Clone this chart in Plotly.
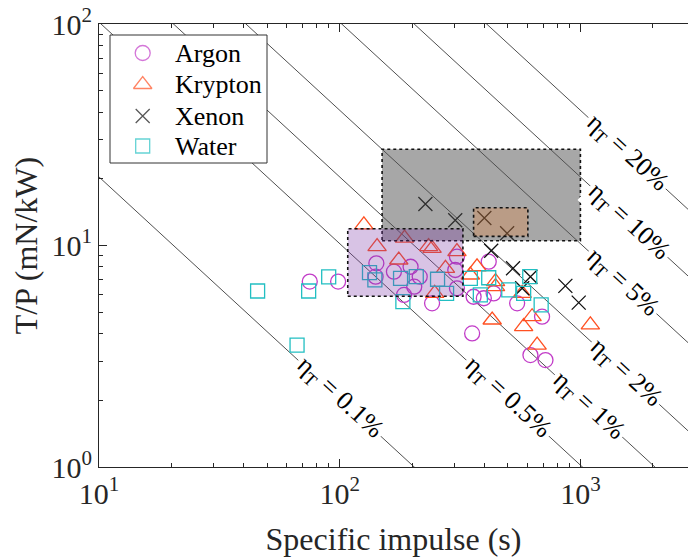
import math
import plotly.graph_objects as go

G0 = 9.80665  # m/s^2

# Specific impulse (s) and thrust-to-power (mN/kW) per propellant
argon_isp = [75.1, 98.5, 142, 141, 168, 197, 215, 204, 185, 242, 307, 302, 307, 416,
             360, 397, 436, 546, 693, 355, 620, 716]
argon_tp = [6.87, 6.87, 8.31, 7.23, 7.62, 8.02, 7.23, 6.52, 5.98, 5.48, 8.90, 7.75, 6.41, 8.45,
            5.87, 5.78, 6.08, 5.48, 4.77, 4.01, 3.20, 3.04]

krypton_isp = [126, 143, 186, 176, 234, 242, 307, 275, 372, 349, 444, 444, 573, 248,
               430, 581, 630, 1100, 661]
krypton_tp = [12.4, 9.88, 10.8, 8.60, 9.88, 9.71, 9.38, 7.89, 8.02, 7.36, 6.87, 6.52, 6.08, 6.08,
              4.61, 4.30, 4.77, 4.38, 3.55]

xenon_isp = [227, 302, 399, 496, 426, 525, 620, 573, 866, 984]
xenon_tp = [15.4, 13.0, 13.3, 11.35, 9.47, 7.89, 7.23, 6.41, 6.57, 5.52]

water_isp = [45.6, 74.3, 90.0, 66.5, 133, 140, 179, 208, 255, 278, 183, 349, 384, 416,
             504, 581, 616, 687]
water_tp = [6.23, 6.23, 7.21, 3.55, 7.54, 6.99, 7.11, 7.23, 7.04, 6.08, 5.58, 7.11, 5.98, 7.15,
            6.30, 6.08, 7.23, 5.39]

# Constant thrust-efficiency lines (percent) and where their labels sit (Isp, s)
eff_levels = [0.1, 0.5, 1, 2, 5, 10, 20]
eff_label_isp = [100, 500, 1080, 1540, 1500, 1590, 1560]
isp_span = [10, 3000]

# Operating envelopes: (Isp min, Isp max, T/P min, T/P max)
box_gray = (150, 1000, 10.5, 27.2)
box_brown = (360, 605, 11.0, 14.8)
box_purple = (108, 325, 5.9, 11.9)

FONT = "Liberation Serif"
INK = "#262626"

# figure geometry (px)
W, H = 688, 557
ML, MR, MT, MB = 99, 0, 24, 90
PW, PH = W - ML - MR, H - MT - MB


def px_x(px):
    return (px - ML) / PW


def px_y(py):
    return (H - MB - py) / PH


def tp_at(eta_pct, isp):
    # T/P [mN/kW] = 2*eta/(g0*Isp) * 1e6
    return 2e6 * (eta_pct / 100.0) / (G0 * isp)


fig = go.Figure()

for eta in eff_levels:
    fig.add_trace(go.Scatter(
        x=isp_span, y=[tp_at(eta, v) for v in isp_span], mode="lines",
        line=dict(color="#505050", width=1), showlegend=False, hoverinfo="skip"))

series = [
    ("Argon", argon_isp, argon_tp, "circle-open", "#c23cc8", 15),
    ("Krypton", krypton_isp, krypton_tp, "triangle-up-open", "#ff5022", 16),
    ("Xenon", xenon_isp, xenon_tp, "x-thin-open", "#111111", 14),
    ("Water", water_isp, water_tp, "square-open", "#22bfc2", 14),
]
for name, xs, ys, sym, col, sz in series:
    fig.add_trace(go.Scatter(
        x=xs, y=ys, mode="markers", name=name, showlegend=False,
        marker=dict(symbol=sym, size=sz, color=col, line=dict(color=col, width=1.3))))

# Legend panel drawn on an overlay axis pair spanning the plot area (0..1)
lg_x0, lg_x1, lg_y0, lg_y1 = px_x(110), px_x(267), px_y(163), px_y(35)
fig.add_trace(go.Scatter(
    x=[lg_x0, lg_x1, lg_x1, lg_x0, lg_x0], y=[lg_y0, lg_y0, lg_y1, lg_y1, lg_y0],
    xaxis="x2", yaxis="y2", mode="lines", fill="toself", fillcolor="white",
    line=dict(color="#333333", width=1), showlegend=False, hoverinfo="skip"))
row_y = [px_y(53), px_y(84.5), px_y(116), px_y(146)]
fig.add_trace(go.Scatter(
    x=[px_x(142.7)] * len(series), y=row_y, xaxis="x2", yaxis="y2", mode="markers",
    marker=dict(symbol=[s[3] for s in series], size=[s[5] for s in series],
                color=[s[4] for s in series],
                line=dict(color=[s[4] for s in series], width=1.3)),
    showlegend=False, hoverinfo="skip"))
for (name, *_), yy in zip(series, row_y):
    fig.add_annotation(x=px_x(173), y=yy, xref="paper", yref="paper", text=name,
                       showarrow=False, xanchor="left", yanchor="middle",
                       font=dict(family=FONT, size=26, color="black"))

boxes = [
    (box_gray, "rgba(80,80,80,0.50)"),
    (box_brown, "rgba(255,120,20,0.22)"),
    (box_purple, "rgba(125,55,170,0.30)"),
]
for (x0, x1, y0, y1), fill in boxes:
    fig.add_shape(type="rect", xref="x", yref="y", x0=x0, x1=x1, y0=y0, y1=y1,
                  fillcolor=fill, line=dict(color="#111111", width=1.6, dash="dot"),
                  layer="above")

for eta, isp in zip(eff_levels, eff_label_isp):
    fig.add_annotation(
        x=math.log10(isp), y=math.log10(tp_at(eta, isp)), xref="x", yref="y",
        text="η<sub>T</sub> = %g%%" % eta, showarrow=False, textangle=42.6,
        font=dict(family=FONT, size=26, color="black"),
        bgcolor="white", borderpad=2)

tick_font = dict(family=FONT, size=30, color=INK)
title_font = dict(family=FONT, size=32, color=INK)
fig.update_layout(
    width=W, height=H,
    margin=dict(l=ML, r=MR, t=MT, b=MB),
    paper_bgcolor="white", plot_bgcolor="white",
    font=dict(family=FONT, color=INK),
    showlegend=False,
    xaxis=dict(
        type="log", range=[1, 1 + PW / 240.7],
        tickvals=[10, 100, 1000], ticktext=["10<sup>1</sup>", "10<sup>2</sup>", "10<sup>3</sup>"],
        ticks="inside", ticklen=8, tickcolor=INK, tickwidth=1,
        minor=dict(tickvals=[20, 30, 40, 50, 60, 70, 80, 90, 200, 300, 400, 500, 600, 700, 800,
                             900, 2000, 3000],
                   ticks="inside", ticklen=4, tickcolor=INK, tickwidth=1, showgrid=False),
        showline=True, linecolor=INK, linewidth=1, mirror="ticks",
        showgrid=False, zeroline=False, tickfont=tick_font,
        title=dict(text="Specific impulse (s)", font=title_font, standoff=18)),
    yaxis=dict(
        type="log", range=[0, 2],
        tickvals=[1, 10, 100], ticktext=["10<sup>0</sup>", "10<sup>1</sup>", "10<sup>2</sup>"],
        ticks="inside", ticklen=8, tickcolor=INK, tickwidth=1,
        minor=dict(tickvals=[2, 3, 4, 5, 6, 7, 8, 9, 20, 30, 40, 50, 60, 70, 80, 90],
                   ticks="inside", ticklen=4, tickcolor=INK, tickwidth=1, showgrid=False),
        showline=True, linecolor=INK, linewidth=1, mirror=False,
        showgrid=False, zeroline=False, tickfont=tick_font,
        title=dict(text="T/P (mN/kW)", font=title_font, standoff=4)),
    xaxis2=dict(overlaying="x", range=[0, 1], visible=False, fixedrange=True),
    yaxis2=dict(overlaying="y", range=[0, 1], visible=False, fixedrange=True),
)

fig.write_html("out.html")
